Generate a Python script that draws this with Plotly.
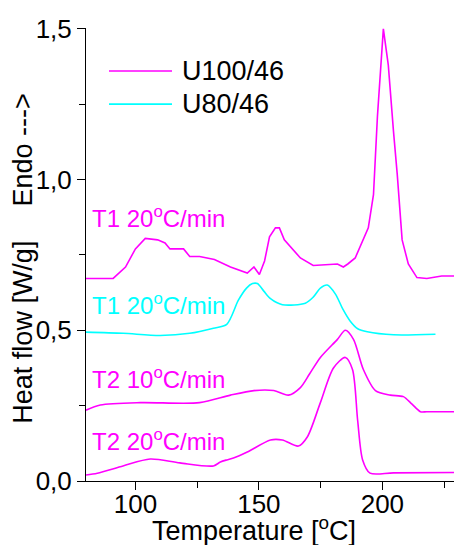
import plotly.graph_objects as go

# ---- data ----
t1_u100_T = [80, 91, 96, 100, 104, 109, 112, 114, 119.5, 122, 126, 132, 138.5, 145.3, 148, 150.2, 152.3, 154.3,
             156.7, 158.3, 160.3, 166.8, 172, 181.8, 184.2, 186, 189, 194.3, 196.4, 198, 200.4, 202.4, 204.5,
             206, 208, 210.5, 214, 218, 224, 229]
t1_u100_V = [0.672, 0.672, 0.71, 0.77, 0.805, 0.80, 0.79, 0.77, 0.77, 0.745, 0.745, 0.735, 0.71, 0.69, 0.71,
             0.685, 0.73, 0.81, 0.84, 0.84, 0.80, 0.74, 0.715, 0.72, 0.71, 0.72, 0.74, 0.84, 0.95, 1.21, 1.50,
             1.38, 1.16, 1.02, 0.80, 0.72, 0.675, 0.672, 0.68, 0.68]

t1_u80_T = [80, 95, 110, 122, 131.6, 137, 141.7, 145, 147.4, 149.4, 152, 154.7, 159.5, 168.8, 172, 174.9,
            177.7, 181, 184, 187, 190, 193.9, 204.5, 221.5]
t1_u80_V = [0.494, 0.49, 0.483, 0.49, 0.507, 0.52, 0.60, 0.64, 0.655, 0.655, 0.63, 0.605, 0.585, 0.59, 0.61,
            0.64, 0.65, 0.62, 0.57, 0.53, 0.505, 0.495, 0.485, 0.487]

t2_10_T = [80, 85.8, 102, 126, 138.5, 148, 156, 162, 166.8, 170.5, 174.9, 181.8, 185, 188.3, 192.3, 197.2,
           203.2, 208.5, 212, 215.4, 218, 229]
t2_10_V = [0.235, 0.252, 0.26, 0.26, 0.285, 0.30, 0.30, 0.285, 0.31, 0.355, 0.41, 0.47, 0.50, 0.47, 0.37,
           0.30, 0.285, 0.28, 0.255, 0.23, 0.23, 0.23]

t2_20_T = [80, 84.6, 95, 106, 118, 131.6, 134.4, 137, 139.7, 145.3, 154.7, 159.5, 166, 169.6, 174.9, 180.2,
           185, 187.9, 190, 192, 195, 204.5, 229]
t2_20_V = [0.02, 0.026, 0.05, 0.073, 0.06, 0.05, 0.063, 0.07, 0.076, 0.096, 0.136, 0.136, 0.116, 0.146,
           0.26, 0.375, 0.41, 0.37, 0.20, 0.07, 0.026, 0.027, 0.028]

series_names = ["U100/46", "U80/46"]
labels = ["T1 20<sup>o</sup>C/min", "T1 20<sup>o</sup>C/min", "T2 10<sup>o</sup>C/min", "T2 20<sup>o</sup>C/min"]
label_V = [0.877, 0.586, 0.341, 0.136]
x_ticks = [100, 150, 200]
y_ticks = [0, 0.5, 1.0, 1.5]
y_ticktext = ["0,0", "0,5", "1,0", "1,5"]

MAG = "#ff00ff"
CYA = "#00ffff"
FONT = "Liberation Sans, Arial, sans-serif"

fig = go.Figure()
fig.add_trace(go.Scatter(x=t1_u100_T, y=t1_u100_V, mode="lines", name=series_names[0],
                         line=dict(color=MAG, width=1.6), showlegend=False))
fig.add_trace(go.Scatter(x=t1_u80_T, y=t1_u80_V, mode="lines", name=series_names[1],
                         line=dict(color=CYA, width=1.6, shape="spline", smoothing=0.8), showlegend=False))
fig.add_trace(go.Scatter(x=t2_10_T, y=t2_10_V, mode="lines", name="T2 10",
                         line=dict(color=MAG, width=1.6, shape="spline", smoothing=0.8), showlegend=False))
fig.add_trace(go.Scatter(x=t2_20_T, y=t2_20_V, mode="lines", name="T2 20",
                         line=dict(color=MAG, width=1.6, shape="spline", smoothing=0.8), showlegend=False))

colors = [MAG, CYA, MAG, MAG]
for txt, v, c in zip(labels, label_V, colors):
    fig.add_annotation(x=81.8, y=v, xref="x", yref="y", text=txt, showarrow=False,
                       xanchor="left", yanchor="middle", font=dict(size=24, color=c, family=FONT))

# manual legend
leg_y = [0.905, 0.832]
for name, c, ly in zip(series_names, [MAG, CYA], leg_y):
    fig.add_shape(type="line", xref="paper", yref="paper", x0=0.0625, x1=0.2337, y0=ly, y1=ly,
                  line=dict(color=c, width=1.6))
    fig.add_annotation(x=0.255, y=ly, xref="paper", yref="paper", text=name, showarrow=False,
                       xanchor="left", yanchor="middle", font=dict(size=27, color="black", family=FONT))

# axis titles
fig.add_annotation(x=-0.172, y=0.731, xref="paper", yref="paper", text="Endo --->", textangle=-90,
                   showarrow=False, xanchor="center", yanchor="middle",
                   font=dict(size=27, color="black", family=FONT))
fig.add_annotation(x=-0.172, y=0.329, xref="paper", yref="paper", text="Heat flow [W/g]", textangle=-90,
                   showarrow=False, xanchor="center", yanchor="middle",
                   font=dict(size=27, color="black", family=FONT))
fig.add_annotation(x=0.4565, y=-0.106, xref="paper", yref="paper", text="Temperature [<sup>o</sup>C]",
                   showarrow=False, xanchor="center", yanchor="middle",
                   font=dict(size=27, color="black", family=FONT))

fig.update_layout(
    width=454, height=545,
    margin=dict(l=86, r=0, t=28, b=64),
    paper_bgcolor="white", plot_bgcolor="white",
    font=dict(family=FONT, color="black"),
    showlegend=False,
)
fig.update_xaxes(range=[80, 229], automargin=False, showgrid=False, zeroline=False, showline=True,
                 linecolor="black", linewidth=1, ticks="outside", ticklen=8, tickcolor="black",
                 tickvals=x_ticks, tickfont=dict(size=26, family=FONT), ticklabelstandoff=-8,
                 minor=dict(tickvals=[125, 175, 225], ticks="outside", ticklen=6, tickcolor="black"))
fig.update_yaxes(range=[0, 1.503], automargin=False, showgrid=False, zeroline=False, showline=True,
                 linecolor="black", linewidth=1, ticks="outside", ticklen=8, tickcolor="black",
                 tickvals=y_ticks, ticktext=y_ticktext, tickfont=dict(size=26, family=FONT),
                 minor=dict(tickvals=[0.25, 0.75, 1.25], ticks="outside", ticklen=6, tickcolor="black"))

fig.write_html("out.html", config={"displayModeBar": False},
               post_script="document.body.style.margin='0';")
